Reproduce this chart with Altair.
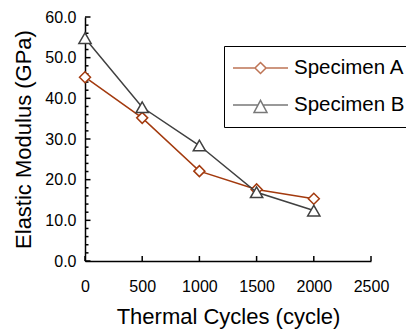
import altair as alt
import pandas as pd

# ---- data ----
cycles = [0, 500, 1000, 1500, 2000]
specimen_a = [45.2, 35.2, 22.1, 17.6, 15.3]
specimen_b = [54.8, 37.8, 28.4, 16.9, 12.4]
series_names = ["Specimen A", "Specimen B"]
series_colors = ["#a33a0e", "#404040"]
series_shapes = ["diamond", "triangle-up"]
x_ticks = [0, 500, 1000, 1500, 2000, 2500]
y_major = [0, 10, 20, 30, 40, 50, 60]
y_minor = [v for v in range(0, 61, 2) if v % 10 != 0]

rows = []
for c, a in zip(cycles, specimen_a):
    rows.append({"cycles": c, "modulus": a, "series": series_names[0]})
for c, b in zip(cycles, specimen_b):
    rows.append({"cycles": c, "modulus": b, "series": series_names[1]})
df = pd.DataFrame(rows)

W, H = 286, 244
FONT = "Liberation Sans"

xscale = alt.Scale(domain=[0, 2500], nice=False, zero=False)
yscale = alt.Scale(domain=[0, 60], nice=False)
cscale = alt.Scale(domain=series_names, range=series_colors)

x_axis = alt.Axis(values=x_ticks, format="d", ticks=False, grid=False, labelFlush=False,
                  domainColor="black", domainWidth=1.5, labelFontSize=16,
                  labelColor="black", labelPadding=17, labelFont=FONT,
                  title="Thermal Cycles (cycle)", titleFontSize=22,
                  titleFontWeight="normal", titleFont=FONT, titleColor="black",
                  titlePadding=12)
y_axis = alt.Axis(values=y_major, format=".1f", ticks=False, grid=False, labelFlush=False,
                  domainColor="black", domainWidth=1.5, labelFontSize=16,
                  labelColor="black", labelPadding=9, labelFont=FONT,
                  title="Elastic Modulus (GPa)", titleFontSize=22,
                  titleFontWeight="normal", titleFont=FONT, titleColor="black",
                  titlePadding=9)

base = alt.Chart(df)

series_layers = []
for name, col, shp in zip(series_names, series_colors, series_shapes):
    sub = base.transform_filter(alt.datum.series == name)
    ln = sub.mark_line(strokeWidth=1.5, color=col).encode(
        x=alt.X("cycles:Q", scale=xscale, axis=x_axis),
        y=alt.Y("modulus:Q", scale=yscale, axis=y_axis),
    )
    pt = sub.mark_point(
        shape=shp, filled=False, fill="white", fillOpacity=1, color=col,
        size=121 if shp == "diamond" else 150, strokeWidth=1.5, opacity=1
    ).encode(
        x=alt.X("cycles:Q", scale=xscale, axis=x_axis),
        y=alt.Y("modulus:Q", scale=yscale, axis=y_axis),
    )
    series_layers.append(ln)
    series_layers.append(pt)

path_a = "M-1,0L-0.2,0M0,-0.2L0.2,0L0,0.2L-0.2,0ZM0.2,0L1,0"
path_b = "M-1,0L-0.09,0M0.09,0L1,0M0,-0.17L0.236,0.27L-0.236,0.27Z"

leg = alt.Legend(orient="none", legendX=139, legendY=29,
                 strokeColor="black", fillColor="white",
                 padding=8, rowPadding=9, clipHeight=28,
                 symbolSize=3025, symbolStrokeWidth=1.5,
                 symbolFillColor="white",
                 labelFontSize=20.5, labelFont=FONT,
                 labelColor="black", labelOffset=5,
                 labelLimit=300)

legend_layer = base.mark_point(filled=False, strokeWidth=1.5, size=0).encode(
    x=alt.X("cycles:Q", scale=xscale, axis=x_axis),
    y=alt.Y("modulus:Q", scale=yscale, axis=y_axis),
    color=alt.Color("series:N", scale=cscale, title=None, legend=leg),
    shape=alt.Shape("series:N", scale=alt.Scale(domain=series_names, range=[path_a, path_b]),
                    title=None, legend=leg),
)

tick_y_minor = alt.Chart(pd.DataFrame({"v": y_minor})).mark_rule(color="black", strokeWidth=1.5).encode(
    y=alt.Y("v:Q", scale=yscale, axis=y_axis), x=alt.value(0), x2=alt.value(3.5))
tick_y_major = alt.Chart(pd.DataFrame({"v": y_major})).mark_rule(color="black", strokeWidth=1.5).encode(
    y=alt.Y("v:Q", scale=yscale, axis=y_axis), x=alt.value(0), x2=alt.value(5.5))
tick_x = alt.Chart(pd.DataFrame({"v": x_ticks})).mark_rule(color="black", strokeWidth=1.5).encode(
    x=alt.X("v:Q", scale=xscale, axis=x_axis), y=alt.value(H), y2=alt.value(H - 5))

chart = alt.layer(
    tick_y_minor, tick_y_major, tick_x, *series_layers, legend_layer
).properties(
    width=W, height=H,
    autosize=alt.AutoSizeParams(type="none"),
    padding={"left": 77, "top": 9, "right": 35, "bottom": 69},
    background="white",
).configure_view(stroke=None)

chart.save("out.html", embed_options={"renderer": "svg", "actions": False})
